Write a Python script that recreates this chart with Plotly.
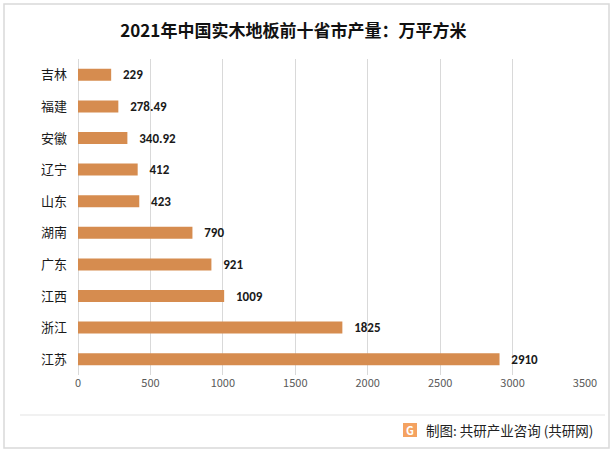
import plotly.graph_objects as go

provinces = ["吉林", "福建", "安徽", "辽宁", "山东", "湖南", "广东", "江西", "浙江", "江苏"]
output = [229, 278.49, 340.92, 412, 423, 790, 921, 1009, 1825, 2910]
labels = ["229", "278.49", "340.92", "412", "423", "790", "921", "1009", "1825", "2910"]
x_ticks = [0, 500, 1000, 1500, 2000, 2500, 3000, 3500]

FONT = "Noto Sans CJK SC, Noto Sans, sans-serif"

L, T, PW, PH = 78, 59, 507, 316


def px(x):
    return (x - L) / PW


def py(y):
    return (T + PH - y) / PH


fig = go.Figure(go.Bar(
    x=output, y=provinces, orientation="h",
    marker=dict(color="#D68C4F", line=dict(width=0)),
    text=labels, texttemplate="   %{text}", textposition="outside", cliponaxis=False,
    constraintext="none",
    textfont=dict(family="Carlito, Lato, Noto Sans, sans-serif", size=13, color="#1a1a1a", weight="bold"),
    width=0.38, hoverinfo="skip",
))

fig.update_layout(
    width=615, height=453,
    margin=dict(l=L, r=615 - L - PW, t=T, b=453 - T - PH, autoexpand=False),
    paper_bgcolor="white", plot_bgcolor="white",
    showlegend=False,
    title=dict(text="<b>2021年中国实木地板前十省市产量：万平方米</b>",
               x=0.477, xanchor="center", y=1 - 31 / 453, yanchor="middle",
               font=dict(family=FONT, size=17, color="#111111")),
    xaxis=dict(range=[0, 3500], tickvals=x_ticks, showgrid=True, gridcolor="#D9D9D9",
               gridwidth=1, zeroline=True, zerolinecolor="#D9D9D9", zerolinewidth=1,
               tickfont=dict(family=FONT, size=11, color="#595959"), ticks="",
               showline=False, automargin=False),
    yaxis=dict(autorange="reversed", tickfont=dict(family=FONT, size=13, color="#1a1a1a"),
               ticks="", showgrid=False, showline=False, ticklabelstandoff=10, automargin=False),
    bargap=0.6,
    shapes=[
        dict(type="rect", xref="paper", yref="paper", x0=px(4), x1=px(609), y0=py(448), y1=py(4),
             line=dict(color="#D9D9D9", width=1.5), fillcolor="rgba(0,0,0,0)", layer="below"),
        dict(type="line", xref="paper", yref="paper", x0=px(20), x1=px(605), y0=py(415), y1=py(415),
             line=dict(color="#E3E3E3", width=1)),
        dict(type="rect", xref="paper", yref="paper", x0=px(403), x1=px(417),
             y0=py(437), y1=py(423),
             line=dict(width=0), fillcolor="#F4A261"),
    ],
    annotations=[
        dict(text="制图: 共研产业咨询 (共研网)", xref="paper", yref="paper",
             x=px(595), y=py(430), xanchor="right", yanchor="middle",
             showarrow=False, font=dict(family=FONT, size=13.5, color="#222222")),
        dict(text="<b>G</b>", xref="paper", yref="paper",
             x=px(410), y=py(430), xanchor="center", yanchor="middle",
             showarrow=False, font=dict(family=FONT, size=11, color="white")),
    ],
)

fig.write_html("out.html", post_script="document.body.style.margin='0';",
               config={"displayModeBar": False})
